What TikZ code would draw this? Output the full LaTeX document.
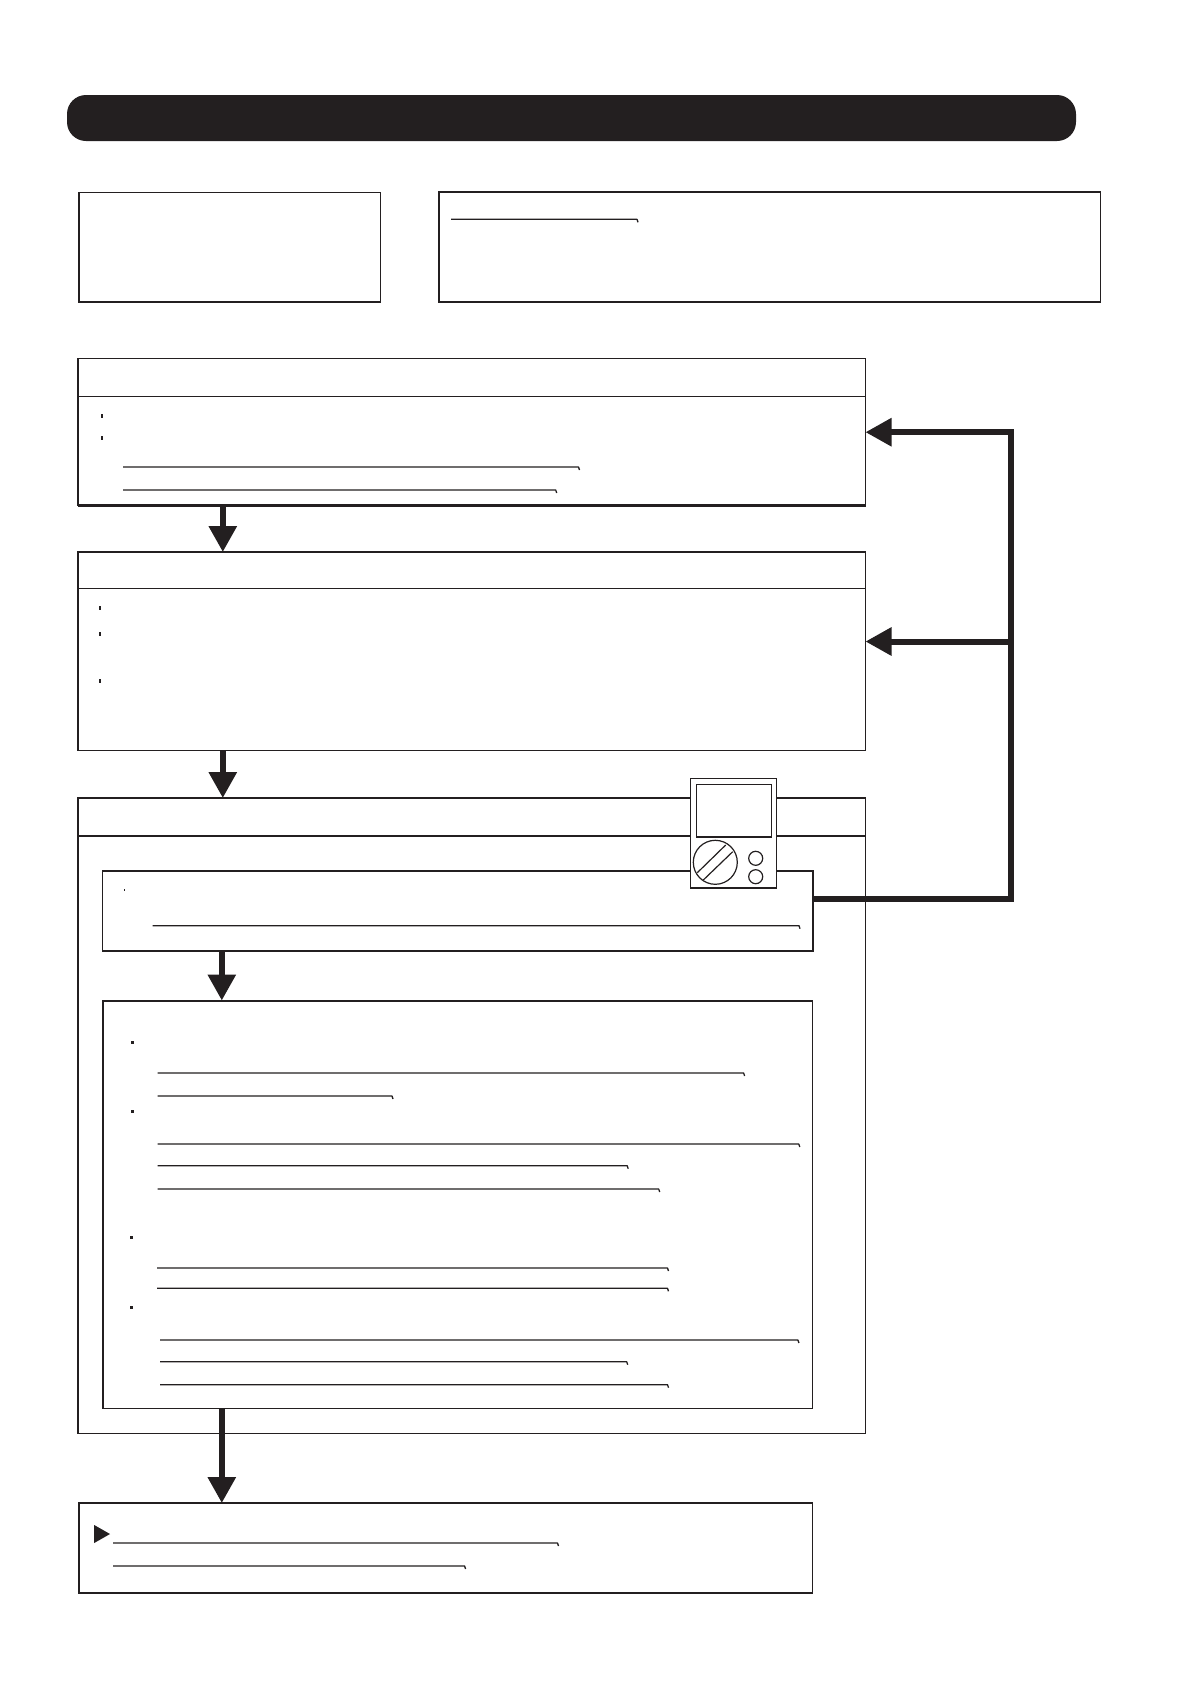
\documentclass[tikz,border=0pt]{standalone}
\usetikzlibrary{arrows.meta,calc}
\definecolor{ink}{HTML}{231F20}
\tikzset{
  frame/.style={draw=ink,line width=1.3pt,fill=white,inner sep=0pt,outer sep=0pt,rectangle},
  banner/.style={fill=ink,draw=none,rounded corners=19pt,inner sep=0pt,outer sep=0pt,rectangle},
  heavyedge/.style={draw=ink,line width=2.3pt,line cap=butt},
  rule/.style={draw=ink,line width=1.3pt},
  ulstroke/.style={draw=ink,line width=1.3pt,line join=round},
  flow/.style={draw=ink,line width=6pt,-{Triangle[length=26pt,width=27pt,fill=ink]}},
  trunk/.style={draw=ink,line width=6pt,line join=miter},
  devline/.style={draw=ink,line width=1.2pt},
  dot/.style={fill=ink,draw=none}
}
% name, x1, y1, x2, y2, style
\newcommand{\bx}[6]{%
  \pgfmathsetmacro{\bw}{#4-#2}\pgfmathsetmacro{\bh}{#5-#3}%
  \pgfmathsetmacro{\bcx}{(#2+#4)/2}\pgfmathsetmacro{\bcy}{(#3+#5)/2}%
  \node[#6,minimum width=\bw pt,minimum height=\bh pt] (#1) at (\bcx,\bcy) {};}
\newcommand{\ulin}[3]{\draw[ulstroke] (#1,#3) -- (#2-1,#3) -- ++(1,3);}
\newcommand{\bul}[2]{\fill[dot] (#1-1.2,#2-1.8) rectangle (#1+1.2,#2+1.8);}
\begin{document}
\begin{tikzpicture}[x=1pt,y=-1pt]
\useasboundingbox (0,0) rectangle (1191,1684);
\fill[white] (0,0) rectangle (1191,1684);
% banner
\bx{title}{67}{95}{1076}{141}{banner}
% top boxes
\bx{boxa}{79}{192.3}{380.5}{302}{frame}
\draw[heavyedge] (boxa.south west) -- (boxa.south east);
\bx{boxb}{439}{192}{1100.5}{302}{frame}
\draw[heavyedge] (boxb.north west) -- (boxb.north east);
\draw[heavyedge] (boxb.south west) -- (boxb.south east);
\ulin{451}{638}{219.3}
% box C
\bx{boxc}{78}{358.5}{865.5}{505.5}{frame}
\draw[heavyedge] (boxc.south west) -- (boxc.south east);
\coordinate (cdl) at (78,396.3);
\draw[rule] (cdl) -- (cdl -| boxc.east);
\bul{102}{416}\bul{102}{438}
\ulin{123}{579.5}{467}
\ulin{123}{556.7}{490}
% box D
\bx{boxd}{78}{552}{865.5}{750.5}{frame}
\draw[heavyedge,line width=1.8pt] (boxd.south west) -- (boxd.south east);
\coordinate (ddl) at (78,588.5);
\draw[rule,line width=1pt] (ddl) -- (ddl -| boxd.east);
\bul{100}{608}\bul{100}{634}\bul{100}{681}
% box E
\bx{boxe}{78}{798}{865.5}{1433.5}{frame}
\draw[heavyedge,line width=1.7pt] (boxe.north west) -- (boxe.north east);
\coordinate (edl) at (78,836);
\draw[rule,line width=1.6pt] (edl) -- (edl -| boxe.east);
% box F
\bx{boxf}{102.5}{870.7}{813}{950.7}{frame,line width=1.7pt}
\fill[dot] (124,889.2) rectangle (125.2,891);
\ulin{152.5}{800}{925.7}
% box G
\bx{boxg}{102.8}{1000.5}{812.4}{1408.3}{frame,line width=1.5pt}
\draw[heavyedge,line width=2pt] (boxg.north west) -- (boxg.north east);
\bul{132.3}{1042.3}\bul{132.3}{1111.3}\bul{131.4}{1237.3}\bul{131.4}{1307.3}
\ulin{157.6}{744.6}{1073}
\ulin{157.6}{393}{1096}
\ulin{157.6}{799.8}{1144}
\ulin{157.6}{628.2}{1165.7}
\ulin{157.6}{659.7}{1189}
\ulin{157}{668.5}{1268}
\ulin{157}{668.5}{1288.3}
\ulin{160}{798.9}{1340}
\ulin{160}{627.7}{1361.7}
\ulin{160}{668.5}{1384.7}
% box H
\bx{boxh}{78.9}{1503}{812.6}{1592.7}{frame,line width=1.7pt}
\draw[heavyedge] (boxh.south west) -- (boxh.south east);
\draw[heavyedge] (boxh.north west) -- (boxh.north east);
\fill[dot] (94.2,1525) -- (110,1534) -- (94.2,1543) -- cycle;
\ulin{113}{558.5}{1543}
\ulin{113}{465.6}{1566}
% downward flows
\coordinate (xa) at (222.8,0);
\coordinate (xb) at (221.8,0);
\draw[flow] (boxc.south -| xa) -- (boxd.north -| xa);
\draw[flow] (boxd.south -| xa) -- (boxe.north -| xa);
\draw[flow] (boxf.south -| xb) -- (boxg.north -| xb);
\draw[flow] (boxg.south -| xb) -- (boxh.north -| xb);
% feedback
\coordinate (tlow) at (1011,898.7);
\coordinate (ttop) at (1011,432.2);
\coordinate (tmid) at (1011,641.5);
\draw[trunk] (boxf.east |- tlow) -- (tlow) -- (ttop) -- ($(ttop)+(-40,0)$);
\draw[flow] ($(ttop)+(-20,0)$) -- (ttop -| boxc.east);
\draw[flow] (tmid) -- (tmid -| boxd.east);
% controller
\bx{device}{690.3}{778.3}{776.3}{888}{frame,line width=1.5pt}
\bx{screen}{696.3}{784.3}{771.7}{837}{frame,line width=1.2pt}
\node[draw=ink,line width=1.2pt,circle,fill=white,minimum size=44pt,inner sep=0pt,outer sep=0pt] (dial) at (715.3,862.3) {};
\node[draw=ink,line width=1.2pt,circle,fill=white,minimum size=14pt,inner sep=0pt,outer sep=0pt] (btna) at (755.7,858.3) {};
\node[draw=ink,line width=1.2pt,circle,fill=white,minimum size=14pt,inner sep=0pt,outer sep=0pt] (btnb) at (755.7,876.7) {};
\draw[devline] (697.3,872.7) -- (725.7,845);
\draw[devline] (703.3,880) -- (732.7,851.7);
\end{tikzpicture}
\end{document}
